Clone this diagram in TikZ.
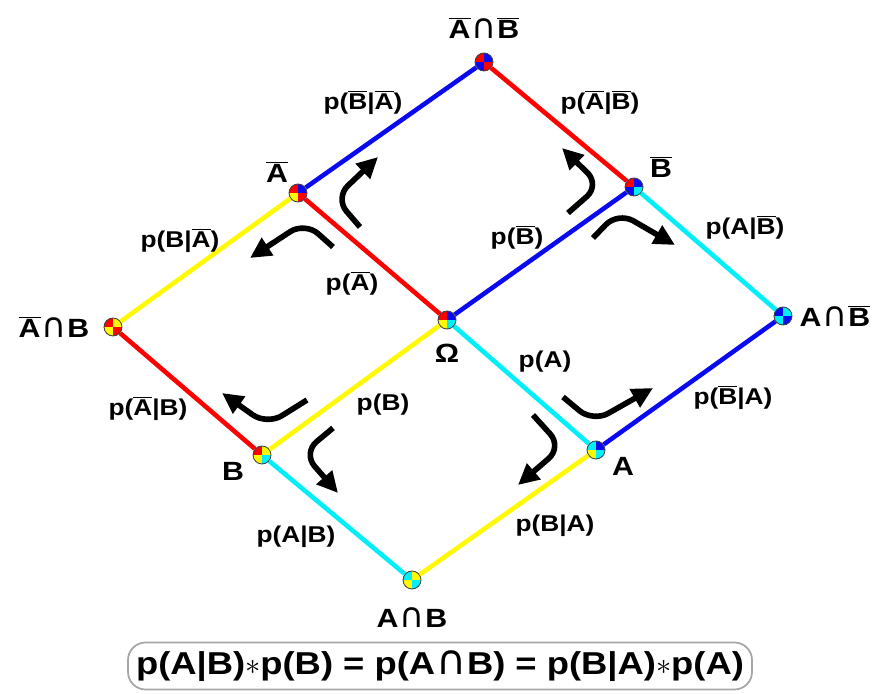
\documentclass[tikz,border=0pt]{standalone}
\usepackage{fontspec}
\setmainfont[FakeStretch=1.15]{Liberation Sans}
\newfontfamily\symf{DejaVu Sans}
\usetikzlibrary{arrows.meta}

\definecolor{pred}{RGB}{255,0,0}
\definecolor{pblue}{RGB}{10,10,240}
\definecolor{pyellow}{RGB}{255,250,0}
\definecolor{pcyan}{RGB}{0,240,250}

\newcommand\ngt[1]{$\overline{\mbox{#1}}$}
\newcommand\inter{\kern0.5pt\scalebox{1.3}{\symf\mdseries ∩}\kern0.5pt}

\begin{document}
\begin{tikzpicture}[
  qdot/.style n args={4}{circle, draw=gray!50!black, line width=0.5pt, minimum size=3.6mm, inner sep=0pt,
    path picture={
      \fill[#1] (path picture bounding box.center) rectangle (path picture bounding box.north west);
      \fill[#2] (path picture bounding box.center) rectangle (path picture bounding box.north east);
      \fill[#3] (path picture bounding box.center) rectangle (path picture bounding box.south west);
      \fill[#4] (path picture bounding box.center) rectangle (path picture bounding box.south east);}},
  link/.style={line width=2.6pt},
  elbl/.style={font=\bfseries\fontsize{13}{15}\selectfont},
  nlbl/.style={font=\bfseries\fontsize{15}{17}\selectfont},
  turn/.style={-{Triangle[length=4.2mm, width=4mm]}, line width=3.2pt, rounded corners=10pt},
]
\useasboundingbox (0,0) rectangle (17.66,13.88);

% === LATTICE OF EVENTS ===
\node[qdot={pred}{pblue}{pblue}{pred}] (nanb) at (9.68, 12.64) {};
\node[qdot={pred}{pblue}{pyellow}{pred}] (na) at (5.96, 10.02) {};
\node[qdot={pred}{pblue}{pblue}{pcyan}] (nb) at (12.68, 10.14) {};
\node[qdot={pred}{pyellow}{pyellow}{pred}] (nab) at (2.26, 7.34) {};
\node[qdot={pred}{pblue}{pyellow}{pcyan}] (om) at (8.94, 7.48) {};
\node[qdot={pblue}{pcyan}{pcyan}{pblue}] (anb) at (15.66, 7.56) {};
\node[qdot={pred}{pyellow}{pyellow}{pcyan}] (b) at (5.24, 4.78) {};
\node[qdot={pcyan}{pblue}{pyellow}{pcyan}] (a) at (11.92, 4.88) {};
\node[qdot={pcyan}{pyellow}{pyellow}{pcyan}] (ab) at (8.24, 2.28) {};

\node[nlbl] (tnanb) at (9.68, 13.32) {\ngt{A}\inter\ngt{B}};
\node[nlbl] (tna) at (5.54, 10.44) {\ngt{A}};
\node[nlbl] (tnb) at (13.22, 10.54) {\ngt{B}};
\node[nlbl] (tnab) at (1.08, 7.34) {\ngt{A}\inter B};
\node[nlbl] (tom) at (8.94, 6.82) {Ω};
\node[nlbl] (tanb) at (16.7, 7.56) {A\inter\ngt{B}};
\node[nlbl] (tb) at (4.66, 4.46) {B};
\node[nlbl] (ta) at (12.46, 4.56) {A};
\node[nlbl] (tab) at (8.24, 1.52) {A\inter B};

\draw[link, pblue] (nanb) -- (na);
\draw[link, pred] (nanb) -- (nb);
\draw[link, pred] (na) -- (om);
\draw[link, pblue] (nb) -- (om);
\draw[link, pyellow] (na) -- (nab);
\draw[link, pcyan] (nb) -- (anb);
\draw[link, pred] (nab) -- (b);
\draw[link, pyellow] (om) -- (b);
\draw[link, pcyan] (om) -- (a);
\draw[link, pblue] (anb) -- (a);
\draw[link, pcyan] (b) -- (ab);
\draw[link, pyellow] (a) -- (ab);

\node[elbl] (l1) at (7.26, 11.84) {p(\ngt{B}|\ngt{A})};
\node[elbl] (l2) at (12.0, 11.84) {p(\ngt{A}|\ngt{B})};
\node[elbl] (l3) at (3.6, 9.08) {p(B|\ngt{A})};
\node[elbl] (l4) at (7.04, 8.22) {p(\ngt{A})};
\node[elbl] (l5) at (10.34, 9.14) {p(\ngt{B})};
\node[elbl] (l6) at (14.9, 9.34) {p(A|\ngt{B})};
\node[elbl] (l7) at (2.96, 5.72) {p(\ngt{A}|B)};
\node[elbl] (l8) at (7.66, 5.78) {p(B)};
\node[elbl] (l9) at (10.9, 6.64) {p(A)};
\node[elbl] (l10) at (14.66, 5.94) {p(\ngt{B}|A)};
\node[elbl] (l11) at (5.92, 3.14) {p(A|B)};
\node[elbl] (l12) at (11.1, 3.36) {p(B|A)};

% turning arrows round the centre
\draw[turn] (7.2, 9.34) -- (6.7, 9.92) -- (7.56, 10.74);
\draw[turn] (6.66, 8.94) -- (6.1, 9.44) -- (5.0, 8.72);
\draw[turn] (11.36, 9.62) -- (12.0, 10.18) -- (11.24, 10.92);
\draw[turn] (11.86, 9.12) -- (12.36, 9.64) -- (13.5, 8.98);
\draw[turn] (6.14, 5.88) -- (5.34, 5.38) -- (4.44, 6.02);
\draw[turn] (6.66, 5.32) -- (6.06, 4.82) -- (6.76, 4.02);
\draw[turn] (10.66, 5.58) -- (11.24, 4.94) -- (10.36, 4.18);
\draw[turn] (11.26, 5.94) -- (11.86, 5.44) -- (13.06, 6.12);

\node[draw=gray!70, line width=1pt, rounded corners=10pt, minimum width=12.48cm, minimum height=0.94cm,
  font=\bfseries\fontsize{18}{20}\selectfont] (bayes) at (8.8, 0.56)
  {p(A|B)$\ast$p(B) = p(A\inter B) = p(B|A)$\ast$p(A)};
\end{tikzpicture}
\end{document}
